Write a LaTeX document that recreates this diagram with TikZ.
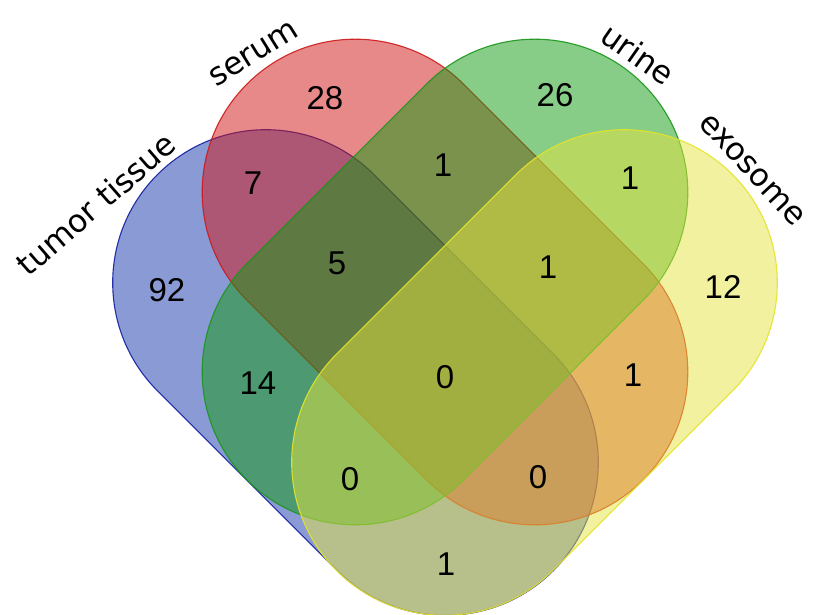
\documentclass[tikz,border=0pt]{standalone}
\usepackage{fontspec}
\setmainfont{Liberation Sans}
\newfontfamily\labelfont{DejaVu Sans}
\definecolor{blueset}{RGB}{23,55,173}
\definecolor{redset}{RGB}{209,21,21}
\definecolor{greenset}{RGB}{17,155,17}
\definecolor{yellowset}{RGB}{229,229,65}
\definecolor{blueline}{RGB}{20,30,160}
\definecolor{redline}{RGB}{205,25,25}
\definecolor{greenline}{RGB}{25,150,25}
\definecolor{yellowline}{RGB}{228,228,40}
% one set of the diagram: a capsule of radius 153 whose axis runs through (#1,#2) at angle #3
\newcommand\vennset[5]{%
  \begin{scope}[shift={(#1,#2)},rotate=#3]
    \draw[setshape,fill=#4,draw=#5]
      (-127,-153) -- (127,-153) arc[start angle=-90,end angle=90,radius=153pt]
      -- (-127,153) arc[start angle=90,end angle=270,radius=153pt] -- cycle;
  \end{scope}}
\begin{document}
\begin{tikzpicture}[x=1pt,y=1pt,
  setshape/.style={line width=1.1pt,fill opacity=0.5,draw opacity=0.9},
  count/.style={font=\fontsize{33}{33}\selectfont,inner sep=0pt},
  setname/.style={font=\labelfont\fontsize{31.5}{31.5}\selectfont,inner sep=0pt}]
\useasboundingbox[fill=white] (0,0) rectangle (816,614);

% the four sets, drawn in order
\vennset{355.5}{241.5}{-45}{blueset}{blueline}
\vennset{445}{332}{-45}{redset}{redline}
\vennset{445}{332}{45}{greenset}{greenline}
\vennset{534.5}{241.5}{45}{yellowset}{yellowline}

% set names
\node[setname,rotate=41]  (tumor)   at (96,410)  {tumor tissue};
\node[setname,rotate=32]  (serum)   at (254,560) {serum};
\node[setname,rotate=-35] (urine)   at (638,560) {urine};
\node[setname,rotate=-47] (exosome) at (752,444) {exosome};

% region counts
\node[count] (nS)    at (325,516) {28};
\node[count] (nU)    at (555,519) {26};
\node[count] (nTS)   at (253,431) {7};
\node[count] (nSU)   at (443,449) {1};
\node[count] (nUE)   at (630,436) {1};
\node[count] (nT)    at (167,324) {92};
\node[count] (nTSU)  at (337,351) {5};
\node[count] (nSUE)  at (548,347) {1};
\node[count] (nE)    at (723,327) {12};
\node[count] (nTU)   at (258,231) {14};
\node[count] (nAll)  at (445,237) {0};
\node[count] (nSE)   at (633,239) {1};
\node[count] (nTUE)  at (350,135) {0};
\node[count] (nTSE)  at (538,137) {0};
\node[count] (nTE)   at (446,50)  {1};
\end{tikzpicture}
\end{document}
